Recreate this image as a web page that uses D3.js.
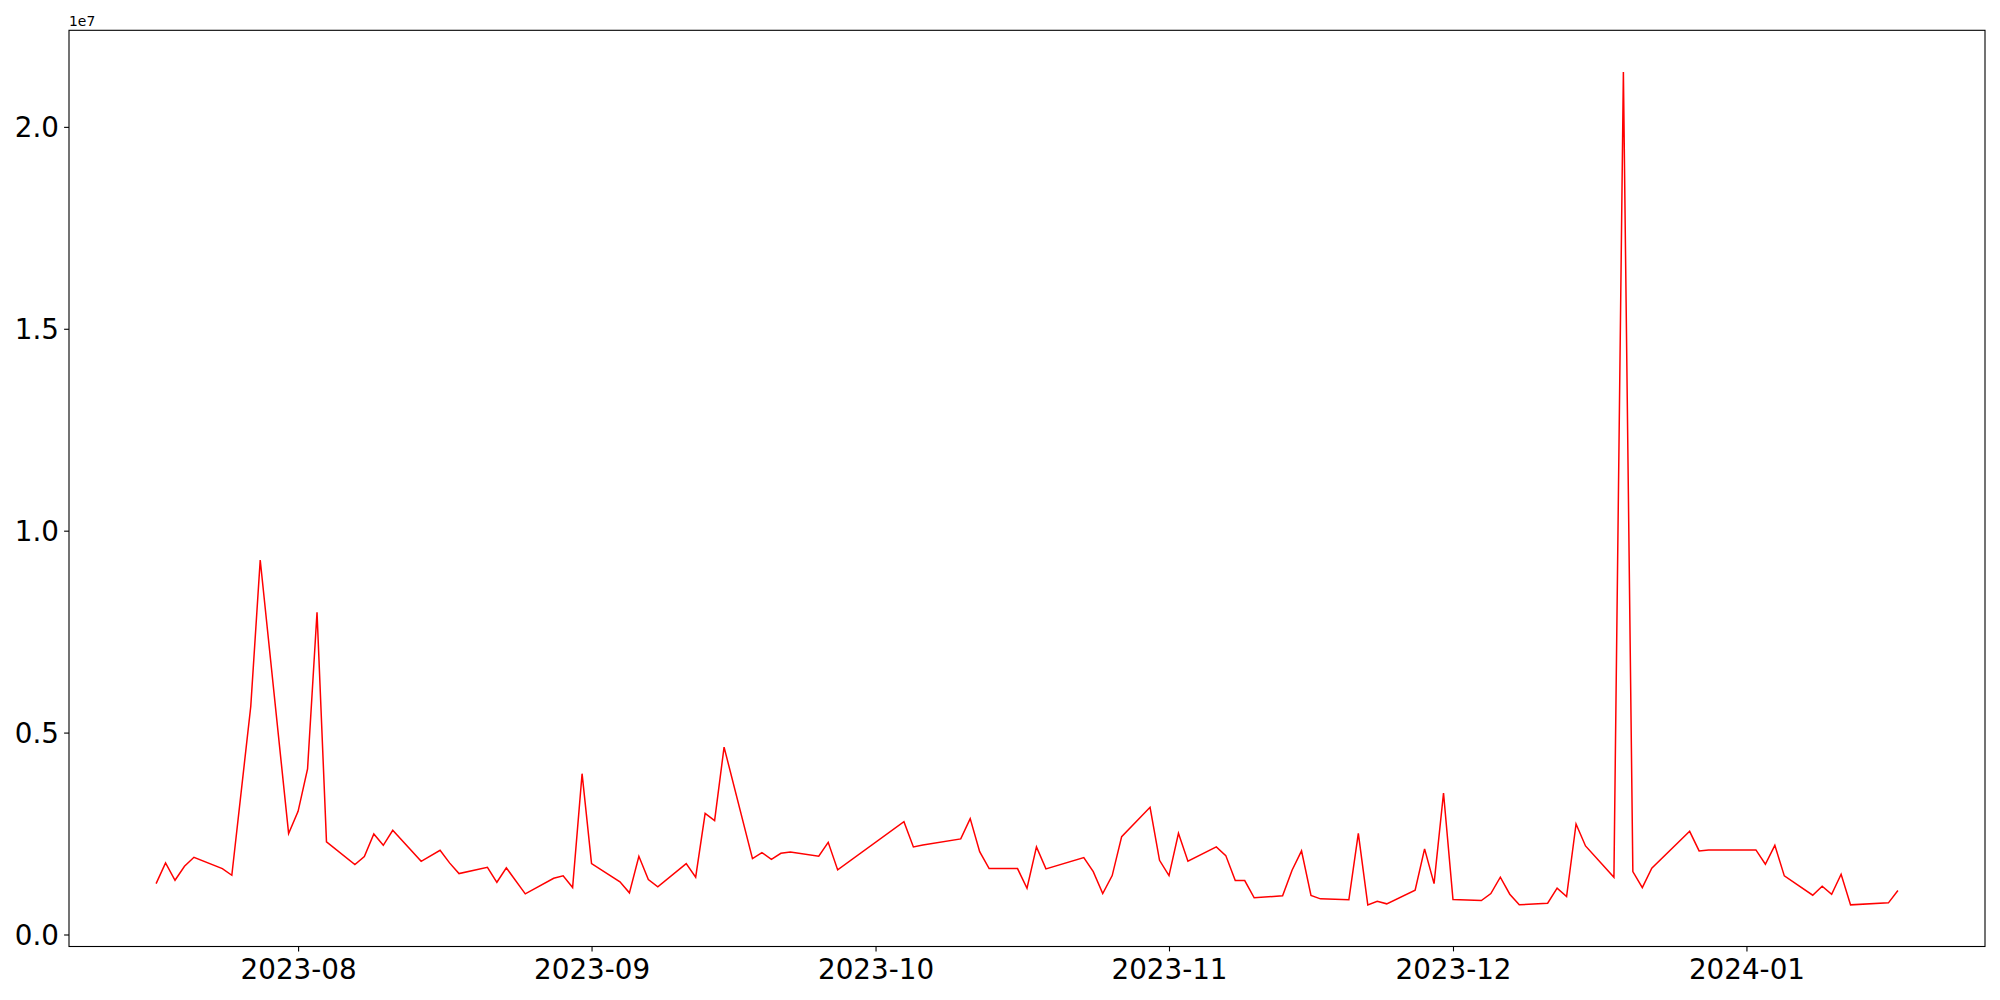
<!DOCTYPE html>
<html>
<head>
<meta charset="utf-8">
<script src="https://cdn.jsdelivr.net/npm/d3@7"></script>
<style>
  html, body { margin: 0; padding: 0; background: #fff; }
  svg { display: block; }
  text { font-family: "DejaVu Sans", sans-serif; fill: #000; }
</style>
</head>
<body>
<svg id="chart" width="2000" height="1000"></svg>
<script>
// ---- data ----
const dates = [
  "2023-07-17","2023-07-18","2023-07-19","2023-07-20","2023-07-21","2023-07-24","2023-07-25","2023-07-27","2023-07-28","2023-07-31",
  "2023-08-01","2023-08-02","2023-08-03","2023-08-04","2023-08-07","2023-08-08","2023-08-09","2023-08-10","2023-08-11","2023-08-14",
  "2023-08-16","2023-08-17","2023-08-18","2023-08-21","2023-08-22","2023-08-23","2023-08-25","2023-08-28","2023-08-29","2023-08-30",
  "2023-08-31","2023-09-01","2023-09-04","2023-09-05","2023-09-06","2023-09-07","2023-09-08","2023-09-11","2023-09-12","2023-09-13",
  "2023-09-14","2023-09-15","2023-09-18","2023-09-19","2023-09-20","2023-09-21","2023-09-22","2023-09-25","2023-09-26","2023-09-27",
  "2023-10-04","2023-10-05","2023-10-06","2023-10-10","2023-10-11","2023-10-12","2023-10-13","2023-10-16","2023-10-17","2023-10-18",
  "2023-10-19","2023-10-23","2023-10-24","2023-10-25","2023-10-26","2023-10-27","2023-10-30","2023-10-31","2023-11-01","2023-11-02",
  "2023-11-03","2023-11-06","2023-11-07","2023-11-08","2023-11-09","2023-11-10","2023-11-13","2023-11-14","2023-11-15","2023-11-16",
  "2023-11-17","2023-11-20","2023-11-21","2023-11-22","2023-11-23","2023-11-24","2023-11-27","2023-11-28","2023-11-29","2023-11-30",
  "2023-12-01","2023-12-04","2023-12-05","2023-12-06","2023-12-07","2023-12-08","2023-12-11","2023-12-12","2023-12-13","2023-12-14",
  "2023-12-15","2023-12-18","2023-12-19","2023-12-20","2023-12-21","2023-12-22","2023-12-26","2023-12-27","2023-12-28","2023-12-29",
  "2024-01-02","2024-01-03","2024-01-04","2024-01-05","2024-01-08","2024-01-09","2024-01-10","2024-01-11","2024-01-12","2024-01-16",
  "2024-01-17"
];
const values = [
  1261000,1773000,1343000,1689000,1912000,1632000,1467000,5646000,9274000,2498000,
  3049000,4098000,7981000,2293000,1731000,1929000,2490000,2208000,2579000,1813000,
  2085000,1773000,1509000,1665000,1293000,1650000,1006000,1392000,1452000,1162000,
  3982000,1756000,1303000,1031000,1937000,1360000,1179000,1756000,1418000,3000000,
  2819000,4641000,1880000,2028000,1863000,2011000,2045000,1937000,2283000,1600000,
  2795000,2169000,2218000,2367000,2869000,2053000,1632000,1632000,1145000,2169000,
  1625000,1904000,1558000,1014000,1459000,2424000,3149000,1838000,1459000,2506000,
  1813000,2169000,1954000,1335000,1335000,908000,957000,1590000,2070000,965000,
  883000,858000,2506000,734000,824000,759000,1096000,2119000,1261000,3504000,
  866000,841000,1014000,1418000,997000,734000,775000,1146000,940000,2737000,
  2193000,1418000,21360000,1558000,1162000,1640000,2555000,2070000,2095000,2095000,
  2095000,1739000,2208000,1452000,972000,1195000,997000,1491000,734000,784000,
  1088000
];
const xTickDates = ["2023-08-01","2023-09-01","2023-10-01","2023-11-01","2023-12-01","2024-01-01"];
const xTickLabels = ["2023-08","2023-09","2023-10","2023-11","2023-12","2024-01"];
const yTickValues = [0, 5000000, 10000000, 15000000, 20000000];
const yTickLabels = ["0.0","0.5","1.0","1.5","2.0"];
const offsetLabel = "1e7";

// ---- layout ----
const L = 69, R = 1985, T = 30.3, B = 946.5;
const parse = d3.timeParse("%Y-%m-%d");
const data = dates.map((d, i) => ({ date: parse(d), value: values[i] }));

const svg = d3.select("#chart");

// matplotlib-like 5% margins
const xExt = d3.extent(data, d => d.date);
const xSpan = xExt[1] - xExt[0];
const x = d3.scaleTime()
  .domain([new Date(+xExt[0] - 0.05 * xSpan), new Date(+xExt[1] + 0.05 * xSpan)])
  .range([L, R]);

const yExt = d3.extent(data, d => d.value);
const ySpan = yExt[1] - yExt[0];
const y = d3.scaleLinear()
  .domain([yExt[0] - 0.05 * ySpan, yExt[1] + 0.05 * ySpan])
  .range([B, T]);

// line
const line = d3.line().x(d => x(d.date)).y(d => y(d.value));
svg.append("path")
  .datum(data)
  .attr("d", line)
  .attr("fill", "none")
  .attr("stroke", "#ff0000")
  .attr("stroke-width", 1.5)
  .attr("stroke-linejoin", "miter");

// frame
svg.append("rect")
  .attr("x", L).attr("y", T)
  .attr("width", R - L).attr("height", B - T)
  .attr("fill", "none").attr("stroke", "#000").attr("stroke-width", 1.1);

// x axis
const xAxis = d3.axisBottom(x)
  .tickValues(xTickDates.map(parse))
  .tickFormat((d, i) => xTickLabels[i])
  .tickSize(4.9)
  .tickPadding(5);
const gx = svg.append("g").attr("transform", `translate(0,${B})`).call(xAxis);
gx.select(".domain").remove();
gx.selectAll(".tick line").attr("stroke", "#000").attr("stroke-width", 1.1);
gx.selectAll(".tick text")
  .attr("font-size", "27.78px")
  .attr("font-family", "DejaVu Sans, sans-serif")
  .attr("fill", "#000")
  .attr("dy", null)
  .attr("y", 32);

// y axis
const yAxis = d3.axisLeft(y)
  .tickValues(yTickValues)
  .tickFormat((d, i) => yTickLabels[i])
  .tickSize(4.9)
  .tickPadding(5);
const gy = svg.append("g").attr("transform", `translate(${L},0)`).call(yAxis);
gy.select(".domain").remove();
gy.selectAll(".tick line").attr("stroke", "#000").attr("stroke-width", 1.1);
gy.selectAll(".tick text")
  .attr("font-size", "27.78px")
  .attr("font-family", "DejaVu Sans, sans-serif")
  .attr("fill", "#000")
  .attr("dy", "0.36em")
  .attr("x", -10);

// offset text
svg.append("text")
  .attr("x", L)
  .attr("y", 26)
  .attr("font-size", "13.9px")
  .text(offsetLabel);
</script>
</body>
</html>
